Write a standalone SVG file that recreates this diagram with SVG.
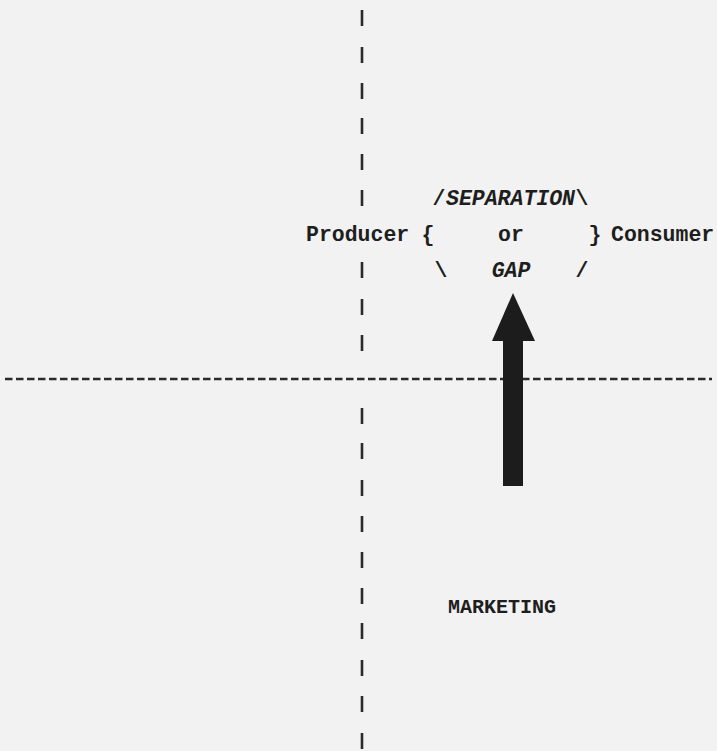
<svg xmlns="http://www.w3.org/2000/svg" width="717" height="751" viewBox="0 0 717 751">
  <style>
    .t { font-family: "Liberation Mono", "Courier New", monospace; font-weight: bold; font-size: 21.5px; fill: #1e1e1e; }
    .i { font-style: italic; }
    .m { text-anchor: middle; }
    .div { stroke: #2a2a2a; fill: none; }
  </style>
  <rect x="0" y="0" width="717" height="751" fill="#f2f2f2"/>
  <g id="dividers">
    <path class="div" stroke-width="2.6" d="M362 10v16M362 47v16M362 83v16M362 118v16M362 154v16M362 190v16M362 262v16M362 299v16M362 335v16M362 408v16M362 443v16M362 480v16M362 516v16M362 552v16M362 588v16M362 623v16M362 660v16M362 696v16M362 733v16"/>
    <line class="div" x1="5" y1="379" x2="712" y2="379" stroke-width="2.4" stroke-dasharray="7.5 3.5"/>
  </g>
  <g id="producer">
    <text class="t" x="306" y="241">Producer</text>
    <text class="t m" x="428" y="241">{</text>
  </g>
  <g id="gap">
    <text class="t m" x="439" y="205">/</text>
    <text class="t i" x="446" y="205">SEPARATION</text>
    <text class="t m" x="582" y="205">\</text>
    <text class="t m" x="511" y="241">or</text>
    <text class="t m" x="441" y="277">\</text>
    <text class="t i m" x="511" y="277">GAP</text>
    <text class="t m" x="582" y="277">/</text>
  </g>
  <g id="consumer">
    <text class="t m" x="595" y="241">}</text>
    <text class="t" x="611" y="241">Consumer</text>
  </g>
  <g id="marketing">
    <text class="t m" x="502" y="613" style="font-size:20px">MARKETING</text>
  </g>
  <g id="connectors">
    <polygon points="503,341 523,341 523,486 503,486" fill="#1c1c1c"/>
    <polygon points="492,341 513,293 535,341" fill="#1c1c1c"/>
  </g>
</svg>
